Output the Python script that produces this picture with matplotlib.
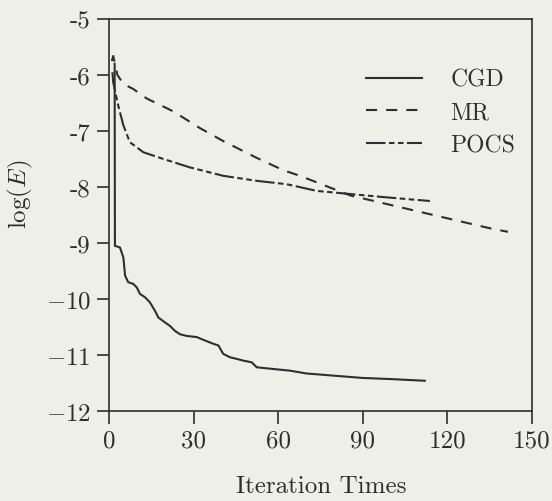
import matplotlib
matplotlib.use("Agg")
import matplotlib.pyplot as plt

plt.rcParams['font.family'] = ['cmr10', 'DejaVu Serif']
plt.rcParams['mathtext.fontset'] = 'cm'
plt.rcParams['axes.unicode_minus'] = False
plt.rcParams['lines.scale_dashes'] = False

cgd_x = [2.0, 2.1, 3.9, 5.1, 5.7, 6.8, 8.6, 9.8, 11.0, 12.8, 14.5, 16.3, 17.5, 19.9, 21.6,
         23.4, 25.2, 27.6, 31.1, 34.0, 37.0, 38.8, 40.5, 42.9, 45.3, 47.6, 50.6, 52.4,
         58.3, 64.2, 70, 80, 90, 100, 112]
cgd_y = [-5.8, -9.05, -9.08, -9.26, -9.58, -9.70, -9.73, -9.79, -9.91, -9.97, -10.06, -10.21,
         -10.33, -10.42, -10.48, -10.57, -10.63, -10.66, -10.68, -10.74, -10.80, -10.83,
         -10.98, -11.04, -11.07, -11.10, -11.13, -11.22, -11.25, -11.28, -11.33, -11.37,
         -11.41, -11.43, -11.46]

mr_x = [1.0, 1.5, 3.0, 5.1, 8.6, 13.4, 22.8, 32.3, 40.5, 52.4, 61.8, 67.7, 85.5, 103.2,
        120.9, 136.2, 141.5]
mr_y = [-5.75, -5.66, -6.0, -6.16, -6.25, -6.42, -6.65, -6.95, -7.18, -7.48, -7.7, -7.8,
        -8.15, -8.36, -8.57, -8.75, -8.8]

pocs_x = [1.2, 1.5, 3.3, 5.1, 7.4, 12.2, 19.3, 28.7, 40.5, 52.4, 63.0, 73.7, 97.3, 113.8]
pocs_y = [-5.95, -6.13, -6.55, -6.9, -7.2, -7.38, -7.5, -7.65, -7.8, -7.89, -7.95, -8.07,
          -8.18, -8.25]

series_labels = ['CGD', 'MR', 'POCS']
xticks = [0, 30, 60, 90, 120, 150]
yticks = [-5, -6, -7, -8, -9, -10, -11, -12]
ytick_labels = ['-5', '-6', '-7', '-8', '-9', '$-10$', '$-11$', '$-12$']

bg = '#efefea'
ink = '#2e2e2e'
fig = plt.figure(figsize=(5.52, 5.02), dpi=100, facecolor=bg)
ax = fig.add_axes([109 / 552, 1 - 412 / 502, 423 / 552, 392 / 502])
ax.set_facecolor(bg)

lw = 1.5
ax.plot(cgd_x, cgd_y, color=ink, lw=lw, label=series_labels[0])
ax.plot(mr_x, mr_y, color=ink, lw=lw, dashes=(8, 6.5), label=series_labels[1])
ax.plot(pocs_x, pocs_y, color=ink, lw=lw, dashes=(14, 2.5, 4, 2.5, 4, 2.5), label=series_labels[2])

ax.set_xlim(0, 150)
ax.set_ylim(-12, -5)
ax.set_xticks(xticks)
ax.set_xticklabels([str(v) for v in xticks])
ax.set_yticks(yticks)
ax.set_yticklabels(ytick_labels)
ax.tick_params(direction='out', length=9, width=1.2, colors=ink, labelsize=18, pad=4)
for s in ax.spines.values():
    s.set_linewidth(1.2)
    s.set_color(ink)

ax.set_xlabel('Iteration Times', fontsize=18, color=ink)
ax.xaxis.set_label_coords(0.501, -0.163)
ax.set_ylabel(r'$\log(E)$', fontsize=18, color=ink)
ax.yaxis.set_label_coords(-0.175, 0.554)

leg = ax.legend(loc='upper right', bbox_to_anchor=(1.0, 0.915), frameon=False, fontsize=17,
                handlelength=2.4, handletextpad=1.2, labelspacing=0.45, borderpad=0.2)
for t in leg.get_texts():
    t.set_color(ink)

fig.savefig('out.png', dpi=100, facecolor=bg)
